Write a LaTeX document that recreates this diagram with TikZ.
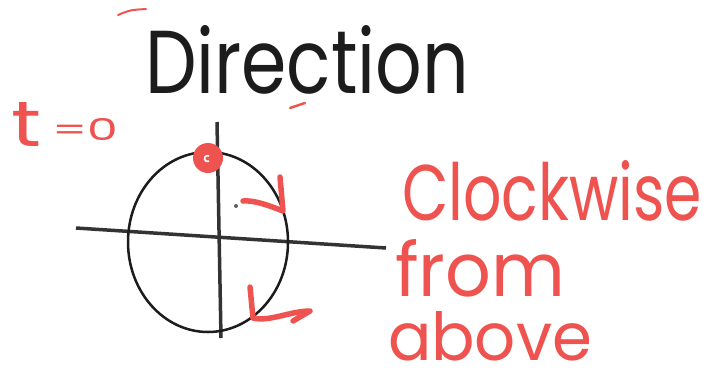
\documentclass[tikz,border=0pt]{standalone}
\usepackage{fontspec}
\setmainfont{Poppins}
\usepackage{graphicx}
\definecolor{pen}{RGB}{239,83,80}
\definecolor{ink}{RGB}{28,28,28}
\tikzset{
  hand/.style={anchor=base west, inner sep=0pt, outer sep=0pt},
  redtext/.style={hand, text=pen},
  redpen/.style={draw=pen, line width=5.5pt, line cap=round, line join=round},
  axis/.style={draw=ink!90, line width=3.5pt},
}
\begin{document}
\begin{tikzpicture}[x=1pt,y=-1pt]
\useasboundingbox[fill=white] (0,0) rectangle (709,370);
% title
\node[hand, text=ink] (title) at (145,93) {\resizebox{324pt}{68pt}{Direction}};
% t = 0
\node[redtext] (tzero) at (12,146) {\resizebox{30pt}{44pt}{t}\hspace{10pt}\raisebox{6pt}{\resizebox{66pt}{22pt}{=0}}};
% axes and circle
\draw[axis] (76,228) -- (386,248);
\draw[axis] (217,122) -- (221,338);
\draw[ink, line width=2.5pt] (208,242) ellipse [x radius=80pt, y radius=90pt];
% starting point
\fill[pen] (208,158) circle [radius=15pt];
\draw[white, line width=1.6pt] (209,156) arc [start angle=60, end angle=300, radius=3pt];
% direction arrows
\draw[redpen] (280,177) -- (283,211) .. controls (270,206) and (255,200) .. (243,201);
\draw[redpen] (250,287) -- (253,318) .. controls (270,322) and (290,311) .. (310,311) -- (293,321);
\fill[ink!70] (236,206) circle [radius=2pt];
% stray marks
\draw[pen, line width=2pt, line cap=round] (118,15) .. controls (130,10) .. (146,9);
\draw[pen, line width=2.5pt, line cap=round] (290,108) -- (305,103);
% label
\node[redtext] (cw) at (402,220) {\resizebox{300pt}{60pt}{Clockwise}};
\node[redtext] (from) at (395,296) {\resizebox{170pt}{57pt}{from}};
\node[redtext] (above) at (388,360) {\resizebox{204pt}{49pt}{above}};
\end{tikzpicture}
\end{document}
